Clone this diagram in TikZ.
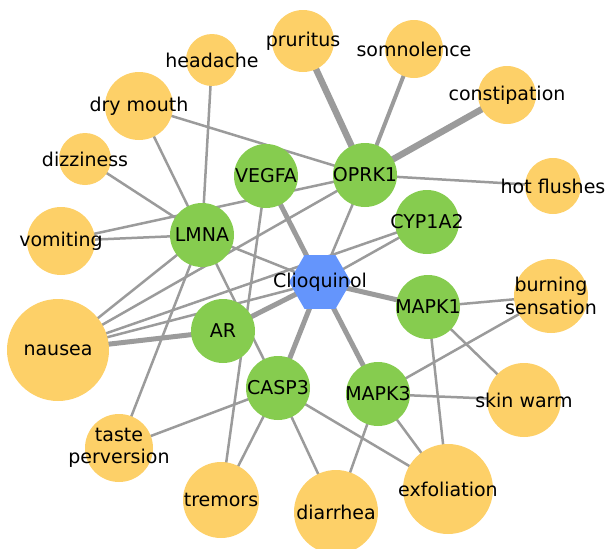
\documentclass[tikz,border=0pt]{standalone}
\usepackage{fontspec}
\setmainfont{DejaVu Sans}
\usetikzlibrary{shapes.geometric,backgrounds}
\definecolor{effectyellow}{HTML}{FDD068}
\definecolor{targetgreen}{HTML}{86CC4F}
\definecolor{drugblue}{HTML}{6495FC}
\definecolor{linkgray}{HTML}{9B9B9B}
\tikzset{
	effect/.style={circle, fill=effectyellow, inner sep=0pt, minimum size=#1},
	target/.style={circle, fill=targetgreen, inner sep=0pt, minimum size=64pt},
	drug/.style={regular polygon, regular polygon sides=6, fill=drugblue, inner sep=0pt, minimum size=62pt},
	link/.style={draw=linkgray, line width=2.5pt},
	midlink/.style={link, line width=4pt},
	heavylink/.style={link, line width=5pt},
	widelink/.style={link, line width=6.5pt}
}
\begin{document}
\begin{tikzpicture}[x=1pt, y=-1pt, font=\fontsize{19}{22.5}\selectfont]
		\useasboundingbox (0,0) rectangle (606,549);
		\node[drug, label=center:Clioquinol] (clio) at (320,282) {};
		\foreach \id/\x/\y/\txt in {vegfa/266/176/VEGFA, oprk1/365/175/OPRK1, lmna/202/235/LMNA, cyp/427/222/CYP1A2, ar/223/331/AR, casp/278/388/CASP3, mapk1/428/307/MAPK1, mapk3/378/394/MAPK3}
			\node[target, label=center:\txt] (\id) at (\x,\y) {};
	
		\foreach \id/\x/\y/\r/\txt in {pruritus/303/41/31/pruritus, somnolence/414/49/29/somnolence, constipation/507/95/29/constipation, hotflushes/553/186/28/hot flushes, headache/212/60/26/headache, drymouth/139/106/34/dry mouth, dizziness/85/159/26/dizziness, vomiting/61/241/34/vomiting, nausea/58/350/51/nausea, taste/119/448/34/{taste\\perversion}, tremors/221/500/38/tremors, diarrhea/336/512/42/diarrhea, exfoliation/448/489/45/exfoliation, skinwarm/524/400/37/skin warm, burning/551/296/37/{burning\\sensation}}
			\node[effect=2*\r pt, label={[align=center]center:\txt}] (\id) at (\x,\y) {};
	
		\begin{pgfonlayer}{background}
			\foreach \a/\b in {headache/lmna, drymouth/lmna, drymouth/oprk1, dizziness/lmna, vomiting/lmna, vomiting/oprk1, nausea/lmna, nausea/oprk1, nausea/cyp, nausea/clio, taste/lmna, taste/casp, tremors/vegfa, tremors/casp, lmna/casp, lmna/clio, oprk1/clio, hotflushes/oprk1, cyp/clio, casp/diarrhea, casp/exfoliation, mapk1/burning, mapk1/skinwarm, mapk1/exfoliation, mapk3/burning, mapk3/skinwarm, mapk3/exfoliation, mapk3/diarrhea}
				\draw[link] (\a.center) -- (\b.center);
			\draw[midlink] (somnolence.center) -- (oprk1.center);
			\foreach \a/\b in {clio/vegfa, clio/ar, clio/casp, clio/mapk1, clio/mapk3, nausea/ar}
				\draw[heavylink] (\a.center) -- (\b.center);
			\foreach \a/\b in {pruritus/oprk1, constipation/oprk1}
				\draw[widelink] (\a.center) -- (\b.center);
		\end{pgfonlayer}
	\end{tikzpicture}
\end{document}
